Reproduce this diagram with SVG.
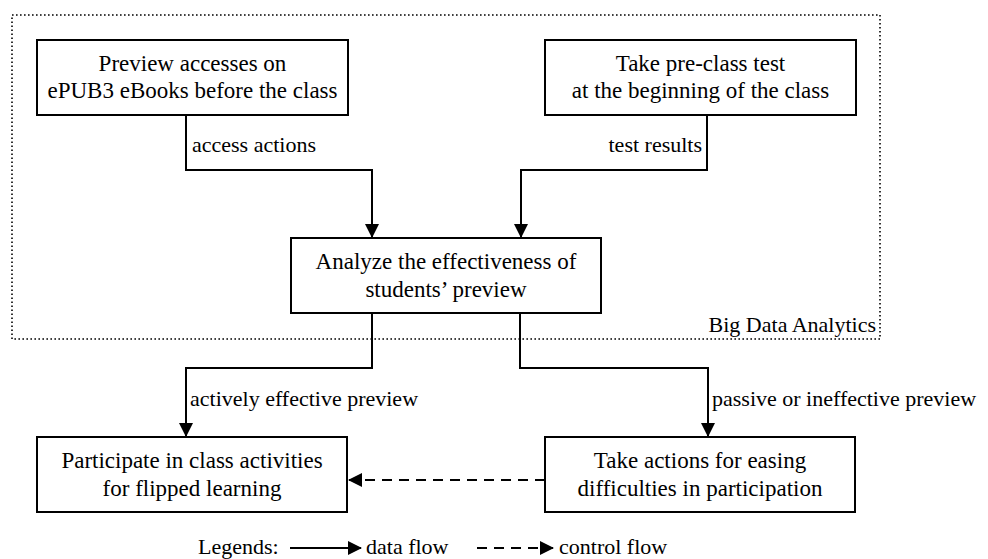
<svg xmlns="http://www.w3.org/2000/svg" width="988" height="559" viewBox="0 0 988 559">
<style>
text{font-family:"Liberation Serif","Times New Roman",serif;fill:#000}
.bt{font-size:23px;text-anchor:middle}
.lb{font-size:22px}
.box{fill:#fff;stroke:#000;stroke-width:2}
.ln{fill:none;stroke:#000;stroke-width:2}
.ds{stroke-dasharray:10 7}
.dot{fill:none;stroke:#000;stroke-width:1.6;stroke-dasharray:1.6 2.4}
</style>
<defs>
<marker id="ah" markerWidth="14" markerHeight="14" refX="13" refY="7" orient="auto" markerUnits="userSpaceOnUse">
<path d="M0,0 L14,7 L0,14 Z" fill="#000"/>
</marker>
</defs>
<g id="region">
<rect class="dot" x="12" y="15" width="868" height="324"/>
<text class="lb" x="876" y="332" text-anchor="end">Big Data Analytics</text>
</g>
<g id="connectors">
<polyline class="ln" points="186,115 186,170 372,170 372,237" marker-end="url(#ah)"/>
<polyline class="ln" points="707,115 707,170 521,170 521,237" marker-end="url(#ah)"/>
<polyline class="ln" points="372,313 372,368 186,368 186,436" marker-end="url(#ah)"/>
<polyline class="ln" points="520,313 520,368 708,368 708,436" marker-end="url(#ah)"/>
<line class="ln ds" x1="545" y1="480" x2="349" y2="480" marker-end="url(#ah)"/>
<text class="lb" x="192" y="152">access actions</text>
<text class="lb" x="702" y="152" text-anchor="end">test results</text>
<text class="lb" x="190" y="406">actively effective preview</text>
<text class="lb" x="712" y="406">passive or ineffective preview</text>
</g>
<g id="n1">
<rect class="box" x="37" y="40" width="311" height="75"/>
<text class="bt" x="192.5" y="71">Preview accesses on</text>
<text class="bt" x="192.5" y="98">ePUB3 eBooks before the class</text>
</g>
<g id="n2">
<rect class="box" x="545" y="40" width="311" height="75"/>
<text class="bt" x="700.5" y="71">Take pre-class test</text>
<text class="bt" x="700.5" y="98">at the beginning of the class</text>
</g>
<g id="n3">
<rect class="box" x="291" y="238" width="310" height="75"/>
<text class="bt" x="446" y="269">Analyze the effectiveness of</text>
<text class="bt" x="446" y="297">students’ preview</text>
</g>
<g id="n4">
<rect class="box" x="37" y="437" width="310" height="75"/>
<text class="bt" x="192" y="468">Participate in class activities</text>
<text class="bt" x="192" y="496">for flipped learning</text>
</g>
<g id="n5">
<rect class="box" x="545" y="437" width="310" height="75"/>
<text class="bt" x="700" y="468">Take actions for easing</text>
<text class="bt" x="700" y="496">difficulties in participation</text>
</g>
<g id="legend">
<text class="lb" x="198" y="554">Legends:</text>
<line class="ln" x1="290" y1="548" x2="361" y2="548" marker-end="url(#ah)"/>
<text class="lb" x="366" y="554">data flow</text>
<line class="ln ds" x1="477" y1="548" x2="553" y2="548" marker-end="url(#ah)"/>
<text class="lb" x="559" y="554">control flow</text>
</g>
</svg>
